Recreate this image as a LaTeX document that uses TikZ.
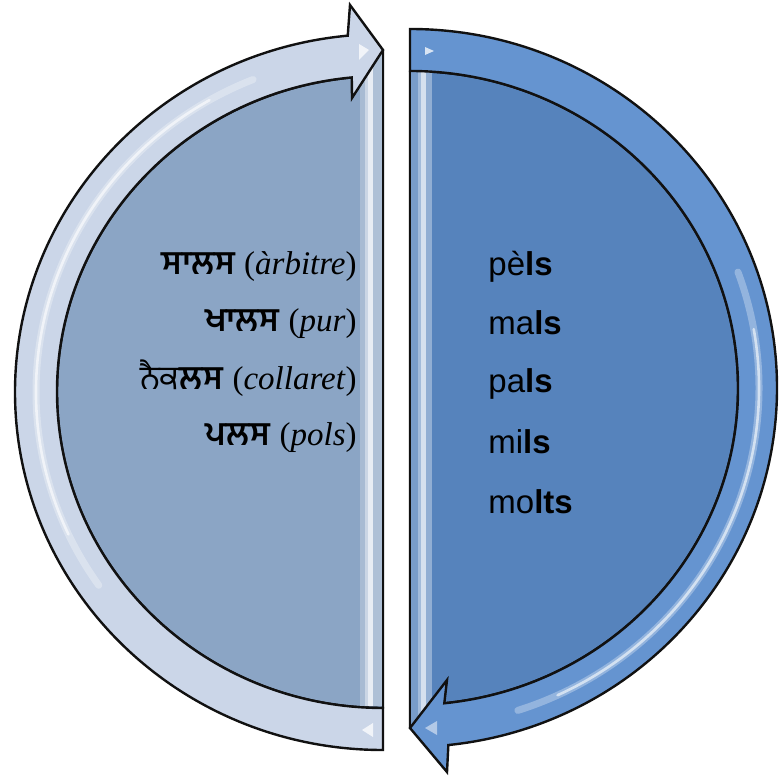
\documentclass[tikz,border=0pt]{standalone}
\usepackage{fontspec}
\setmainfont{Liberation Sans}
\newfontfamily\romfont{Liberation Serif}
\newfontfamily\gurfont[Script=Gurmukhi]{Hind Jalandhar}
\usetikzlibrary{calc}
\definecolor{Pale}{HTML}{8BA5C5}
\definecolor{PaleBand}{HTML}{CBD6E8}
\definecolor{Deep}{HTML}{5683BC}
\definecolor{DeepBand}{HTML}{6594D0}
\definecolor{Edge}{HTML}{111111}
\tikzset{
 disc/.style={draw=Edge,line width=1.2pt,line join=round},
 band/.style={draw=Edge,line width=1.2pt,line join=miter},
 glow/.style={draw=white,line width=3.5pt,opacity=.3,line cap=round},
 shine/.style={draw=white,line width=1.3pt,opacity=.6,line cap=round},
 glint/.style={fill=white,draw=none,opacity=.75},
 gword/.style={anchor=base east,inner sep=0pt,font=\fontsize{16.5}{20}\selectfont},
 cword/.style={anchor=base west,inner sep=0pt,font=\fontsize{16.5}{20}\selectfont}
}
\newcommand{\gb}[1]{{\gurfont\bfseries #1}}
\newcommand{\gr}[1]{{\gurfont #1}}
\newcommand{\ca}[1]{{\romfont(\textit{#1})}}

\begin{document}
\begin{tikzpicture}[x=0.5pt,y=0.5pt]
\useasboundingbox (0,0) rectangle (779,776);
\coordinate (cl) at (383,384);
\coordinate (cr) at (410,388);
% left half
\draw[disc,fill=Pale] (383,68) arc[start angle=270,end angle=95.5,x radius=326,y radius=316] -- (383,726) -- cycle;
\fill[Pale!75!white] (360,70) rectangle (365,726);
\fill[Pale!45!white] (365,70) rectangle (368,726);
\fill[Pale!20!white] (368,70) rectangle (373,726);
\fill[Pale!70!white] (373,70) rectangle (381.8,726);
\draw[band,fill=PaleBand] (383,26) arc[start angle=270,end angle=95.5,x radius=368,y radius=358] -- (350,771) -- (383,726) -- (352,678) -- (351.75,698.55) arc[start angle=95.5,end angle=270,x radius=326,y radius=316] -- cycle;
\draw[glow] ($(cl)+(215:347 and 337)$) arc[start angle=215,end angle=112,x radius=347,y radius=337];
\draw[shine] ($(cl)+(205:347 and 337)$) arc[start angle=205,end angle=120,x radius=347,y radius=337];
\fill[glint] (359,732) -- (369,726) -- (359,716) -- cycle;
\fill[glint] (373,53) -- (362,46) -- (373,39) -- cycle;
% right half
\draw[disc,fill=Deep] (410,48) -- (410,705) arc[start angle=90,end angle=-84,x radius=328,y radius=317] -- cycle;
\fill[Deep!80!white] (411.2,48) rectangle (418,703.6);
\fill[Deep!55!white] (418,48) rectangle (421,703.6);
\fill[Deep!25!white] (421,48) rectangle (426,703.6);
\fill[Deep!65!white] (426,48) rectangle (432,703.6);
\draw[band,fill=DeepBand] (410,747) arc[start angle=90,end angle=-84,x radius=367,y radius=359] -- (447,4) -- (410,48) -- (447,96) -- (444.29,72.74) arc[start angle=-84,end angle=90,x radius=328,y radius=317] -- cycle;
\draw[glow] ($(cr)+(20:349 and 339)$) arc[start angle=20,end angle=-72,x radius=349,y radius=339];
\draw[shine] ($(cr)+(10:349 and 339)$) arc[start angle=10,end angle=-65,x radius=349,y radius=339];
\fill[glint] (425,729) -- (434,725) -- (425,721) -- cycle;
\fill[glint,opacity=.5] (425,48) -- (437,55) -- (437,41) -- cycle;
% Gurmukhi words
\node[gword] (g1) at (357,501) {\gb{ਸਾਲਸ} \ca{àrbitre}};
\node[gword] (g2) at (357,444) {\gb{ਖਾਲਸ} \ca{pur}};
\node[gword] (g3) at (357,386) {\gr{ਨੈਕ}\gb{ਲਸ} \ca{collaret}};
\node[gword] (g4) at (357,330) {\gb{ਪਲਸ} \ca{pols}};
% Catalan words
\node[cword] (c1) at (488,500) {pè\textbf{ls}};
\node[cword] (c2) at (488,441) {ma\textbf{ls}};
\node[cword] (c3) at (488,383) {pa\textbf{ls}};
\node[cword] (c4) at (488,323) {mi\textbf{ls}};
\node[cword] (c5) at (488,263) {mo\textbf{lts}};
\end{tikzpicture}
\end{document}
